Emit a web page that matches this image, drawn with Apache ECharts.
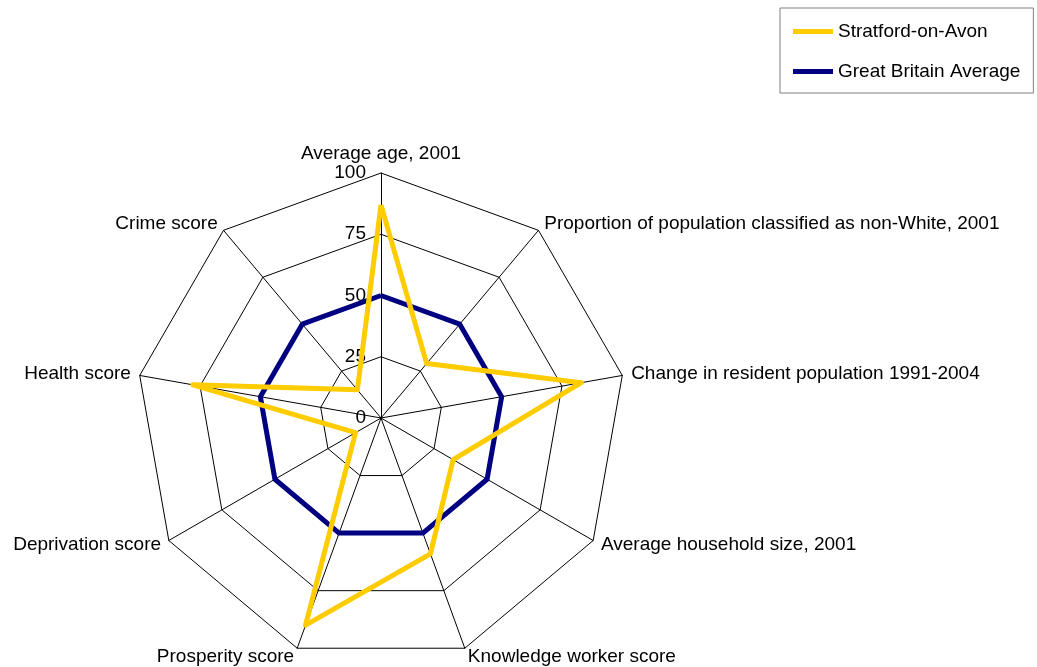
<!DOCTYPE html>
<html>
<head>
<meta charset="utf-8">
<script src="https://cdn.jsdelivr.net/npm/echarts@6/dist/echarts.min.js"></script>
<style>
  html, body { margin: 0; padding: 0; background: #fff; }
  #chart { width: 1037px; height: 667px; }
</style>
</head>
<body>
<div id="chart"></div>
<script>
// indicators, clockwise from the top
const indicators = [
  'Average age, 2001',
  'Proportion of population classified as non-White, 2001',
  'Change in resident population 1991-2004',
  'Average household size, 2001',
  'Knowledge worker score',
  'Prosperity score',
  'Deprivation score',
  'Health score',
  'Crime score'
]

const stratford = [87, 29, 83, 34, 59, 90, 12, 78, 15]
const gbAverage = [50, 50, 50, 50, 50, 50, 50, 50, 50]

const seriesNames = ['Stratford-on-Avon', 'Great Britain Average']
const seriesColors = ['#FFCC00', '#000080']

const font = 'Arial, "Liberation Sans", sans-serif'

// echarts lays radar axes out counter-clockwise, so keep the first one and reverse the rest
const order = [0].concat(indicators.map((_, i) => i).slice(1).reverse())
const reorder = arr => order.map(i => arr[i])

const chart = echarts.init(document.getElementById('chart'))

const indicatorOpts = reorder(indicators).map((name, i) => {
  const opt = { name: name, min: 0, max: 100 }
  // only the top axis carries the value labels
  if (i === 0) opt.axisLabel = { show: true }
  return opt
})

const option = {
  animation: false,
  backgroundColor: '#fff',
  legend: {
    left: 780,
    top: 8,
    orient: 'vertical',
    padding: [14, 13, 12, 13],
    itemGap: 21,
    itemWidth: 40,
    itemHeight: 5,
    icon: 'rect',
    borderColor: '#808080',
    borderWidth: 1,
    textStyle: { fontFamily: font, fontSize: 19, color: '#000' },
    data: seriesNames
  },
  radar: {
    center: [381, 418],
    radius: 245,
    startAngle: 90,
    splitNumber: 4,
    shape: 'polygon',
    nameGap: 9,
    axisName: { color: '#000', fontFamily: font, fontSize: 19 },
    indicator: indicatorOpts,
    axisLine: { lineStyle: { color: '#000', width: 1 } },
    splitLine: { lineStyle: { color: '#000', width: 1 } },
    splitArea: { show: false },
    axisTick: { show: false },
    axisLabel: {
      show: false,
      color: '#000',
      fontFamily: font,
      fontSize: 19,
      margin: 15
    }
  },
  series: [{
    type: 'radar',
    symbol: 'none',
    data: [
      {
        name: seriesNames[1],
        value: reorder(gbAverage),
        lineStyle: { color: seriesColors[1], width: 5 },
        itemStyle: { color: seriesColors[1] }
      },
      {
        name: seriesNames[0],
        value: reorder(stratford),
        lineStyle: { color: seriesColors[0], width: 5 },
        itemStyle: { color: seriesColors[0] }
      }
    ]
  }]
}

chart.setOption(option)
</script>
</body>
</html>
